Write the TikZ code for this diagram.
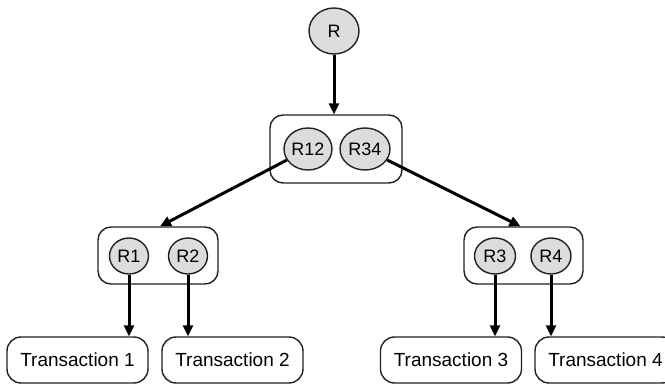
\documentclass[tikz,border=0pt]{standalone}
\usepackage{fontspec}
\setmainfont{Liberation Sans}
\usetikzlibrary{arrows.meta,shapes.geometric,calc}

\definecolor{nodefill}{HTML}{DCDCDC}
\definecolor{edge}{HTML}{222222}

\tikzset{
  keynode/.style={ellipse, draw=edge, line width=1.4pt, fill=nodefill,
    inner sep=0pt, font=\fontsize{18}{20}\selectfont},
  groupbox/.style={rectangle, rounded corners=13pt, draw=edge, line width=1.4pt,
    inner sep=0pt},
  txbox/.style={rectangle, rounded corners=14pt, draw=edge, line width=1.4pt,
    minimum width=141pt, minimum height=46pt, inner sep=0pt,
    font=\fontsize{19}{21}\selectfont},
  link/.style={line width=3pt, draw=black,
    -{Triangle[length=11pt,width=10pt]}}
}

\begin{document}
\begin{tikzpicture}[x=1pt,y=-1pt]
  \useasboundingbox (0,0) rectangle (665,385);
  \clip (0,0) rectangle (665,385);

  % root
  \node[keynode, minimum width=50pt, minimum height=46pt] (R) at (334,31) {R};

  % second level group
  \node[groupbox, minimum width=132pt, minimum height=68pt] (top) at (336,149) {};
  \node[keynode, minimum width=48pt, minimum height=42pt] (R12) at (308,149) {R12};
  \node[keynode, minimum width=50pt, minimum height=42pt] (R34) at (365,149) {R34};

  % third level groups
  \node[groupbox, minimum width=120pt, minimum height=57pt] (lbox) at (158,255.5) {};
  \node[keynode, minimum width=39pt, minimum height=36pt] (R1) at (129,256) {R1};
  \node[keynode, minimum width=39pt, minimum height=36pt] (R2) at (188,256) {R2};

  \node[groupbox, minimum width=119pt, minimum height=57pt] (rbox) at (523.5,255.5) {};
  \node[keynode, minimum width=41pt, minimum height=36pt] (R3) at (495,256) {R3};
  \node[keynode, minimum width=40pt, minimum height=36pt] (R4) at (551,256) {R4};

  % leaves
  \node[txbox] (T1) at (77.5,360) {Transaction 1};
  \node[txbox] (T2) at (232.5,360) {Transaction 2};
  \node[txbox] (T3) at (451,360) {Transaction 3};
  \node[txbox] (T4) at (605.5,360) {Transaction 4};

  % connectors
  \draw[link] (R) -- (R |- top.north);
  \draw[link] (R12) -- ($(lbox.north)+(2,0)$);
  \draw[link] (R34) -- ($(rbox.north)+(-3,0)$);
  \draw[link] (R1.south) -- (R1.south |- T1.north);
  \draw[link] (R2.south) -- (R2.south |- T2.north);
  \draw[link] (R3.south) -- (R3.south |- T3.north);
  \draw[link] (R4.south) -- (R4.south |- T4.north);
\end{tikzpicture}
\end{document}
